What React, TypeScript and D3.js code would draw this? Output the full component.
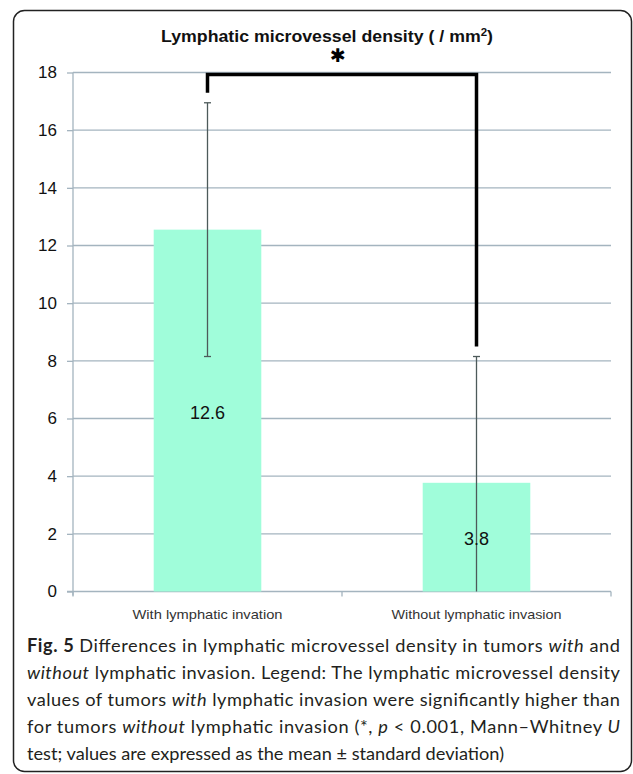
import { useEffect, useRef } from 'react';
import * as d3 from 'd3';

const categories = ['With lymphatic invation', 'Without lymphatic invasion'];
const means = [12.55, 3.77];
const meanLabels = ['12.6', '3.8'];
const sds = [4.4, 4.38];
const yTicks = [0, 2, 4, 6, 8, 10, 12, 14, 16, 18];
// significance bracket: top level, left leg end, right leg end
const bracketTop = 18;
const bracketEnds = [17.3, 8.5];

const captionLines: { t: string; b?: boolean; i?: boolean }[][] = [
  [{ t: 'Fig. 5 ', b: true }, { t: 'Differences in lymphatic microvessel density in tumors ' }, { t: 'with', i: true }, { t: ' and' }],
  [{ t: 'without', i: true }, { t: ' lymphatic invasion. Legend: The lymphatic microvessel density' }],
  [{ t: 'values of tumors ' }, { t: 'with', i: true }, { t: ' lymphatic invasion were significantly higher than' }],
  [{ t: 'for tumors ' }, { t: 'without', i: true }, { t: ' lymphatic invasion (*, ' }, { t: 'p', i: true }, { t: ' < 0.001, Mann\u2013Whitney ' }, { t: 'U', i: true }],
  [{ t: 'test; values are expressed as the mean \u00b1 standard deviation)' }],
];

export default function App() {
  const svgRef = useRef<SVGSVGElement>(null);
  const width = 633;
  const height = 774;

  useEffect(() => {
    if (!svgRef.current) return;
    const svg = d3.select(svgRef.current);
    svg.selectAll('*').remove();

    const left = 73;
    const right = 611;

    const x = d3.scaleBand()
      .domain(categories)
      .range([left, right])
      .paddingInner(0.6)
      .paddingOuter(0.3);

    const y = d3.scaleLinear()
      .domain([0, 18])
      .range([591.5, 72.5]);

    // frame
    svg.append('rect')
      .attr('x', 13.5)
      .attr('y', 10.5)
      .attr('width', 618)
      .attr('height', 761)
      .attr('rx', 11)
      .attr('fill', 'white')
      .attr('stroke', '#222')
      .attr('stroke-width', 1.5);

    // title
    const title = svg.append('text')
      .attr('x', 161)
      .attr('y', 42)
      .attr('textLength', 332)
      .attr('lengthAdjust', 'spacingAndGlyphs')
      .style('font-family', 'Liberation Sans, Arial, sans-serif')
      .style('font-size', '17px')
      .style('font-weight', 'bold')
      .style('fill', '#111');
    title.append('tspan').text('Lymphatic microvessel density ( / mm');
    title.append('tspan').attr('dy', -6).style('font-size', '11px').text('2');
    title.append('tspan').attr('dy', 6).text(')');

    // grid lines
    svg.append('g')
      .selectAll('line')
      .data(yTicks.filter(d => d > 0))
      .enter().append('line')
      .attr('x1', left)
      .attr('x2', right)
      .attr('y1', d => y(d))
      .attr('y2', d => y(d))
      .attr('stroke', '#a4b4bf')
      .attr('stroke-width', 1.3);

    // y axis
    const yAxis = svg.append('g')
      .attr('transform', `translate(${left},0)`)
      .call(d3.axisLeft(y).tickValues(yTicks).tickSize(6).tickPadding(10).tickFormat(d3.format('d')));
    yAxis.select('.domain').remove();
    yAxis.selectAll('.tick line').attr('stroke', '#a4b4bf').attr('stroke-width', 1.3);
    yAxis.selectAll('text')
      .style('font-family', 'Liberation Sans, Arial, sans-serif')
      .style('font-size', '17px')
      .style('fill', '#111');
    svg.append('line')
      .attr('x1', left).attr('x2', left)
      .attr('y1', y(18)).attr('y2', y(0) + 4)
      .attr('stroke', '#a4b4bf').attr('stroke-width', 1.3);

    // x axis
    svg.append('line')
      .attr('x1', left - 6).attr('x2', right)
      .attr('y1', y(0)).attr('y2', y(0))
      .attr('stroke', '#a4b4bf').attr('stroke-width', 1.3);
    const bounds = [0, 1, 2].map(i => left + i * x.step());
    svg.append('g').selectAll('line')
      .data(bounds)
      .enter().append('line')
      .attr('x1', d => d).attr('x2', d => d)
      .attr('y1', y(0)).attr('y2', y(0) + 5)
      .attr('stroke', '#a4b4bf').attr('stroke-width', 1.3);

    const labelWidths = [150, 170];
    svg.append('g').selectAll('text')
      .data(categories)
      .enter().append('text')
      .attr('x', (d, i) => (x(d) || 0) + x.bandwidth() / 2 - labelWidths[i] / 2)
      .attr('y', 619)
      .attr('textLength', (d, i) => labelWidths[i])
      .attr('lengthAdjust', 'spacingAndGlyphs')
      .style('font-family', 'Liberation Sans, Arial, sans-serif')
      .style('font-size', '13px')
      .style('fill', '#333')
      .text(d => d);

    // bars
    svg.append('g').selectAll('rect')
      .data(categories)
      .enter().append('rect')
      .attr('x', d => x(d) || 0)
      .attr('width', x.bandwidth())
      .attr('y', (d, i) => y(means[i]))
      .attr('height', (d, i) => y(0) - y(means[i]))
      .attr('fill', '#a0fdda');

    // error bars
    const eb = svg.append('g').selectAll('g')
      .data(categories)
      .enter().append('g');
    const cx = (d: string) => (x(d) || 0) + x.bandwidth() / 2;
    eb.append('line')
      .attr('x1', d => cx(d)).attr('x2', d => cx(d))
      .attr('y1', (d, i) => y(means[i] + sds[i]))
      .attr('y2', (d, i) => y(Math.max(0, means[i] - sds[i])))
      .attr('stroke', '#4d5a5a').attr('stroke-width', 1.3);
    eb.append('line')
      .attr('x1', d => cx(d) - 3.5).attr('x2', d => cx(d) + 3.5)
      .attr('y1', (d, i) => y(means[i] + sds[i]))
      .attr('y2', (d, i) => y(means[i] + sds[i]))
      .attr('stroke', '#4d5a5a').attr('stroke-width', 1.3);
    eb.filter((d, i) => means[i] - sds[i] > 0).append('line')
      .attr('x1', d => cx(d) - 3.5).attr('x2', d => cx(d) + 3.5)
      .attr('y1', (d, i) => y(means[i] - sds[i]))
      .attr('y2', (d, i) => y(means[i] - sds[i]))
      .attr('stroke', '#4d5a5a').attr('stroke-width', 1.3);

    // value labels
    svg.append('g').selectAll('text')
      .data(categories)
      .enter().append('text')
      .attr('x', d => cx(d))
      .attr('y', (d, i) => (i === 0 ? y(6) : y(2) + 11))
      .attr('text-anchor', 'middle')
      .style('font-family', 'Liberation Sans, Arial, sans-serif')
      .style('font-size', '18px')
      .style('fill', '#111')
      .text((d, i) => meanLabels[i]);

    // significance bracket
    const x0 = cx(categories[0]);
    const x1 = cx(categories[1]);
    const top = y(bracketTop) + 2;
    svg.append('path')
      .attr('d', `M${x0},${y(bracketEnds[0])}V${top}H${x1}V${y(bracketEnds[1])}`)
      .attr('fill', 'none')
      .attr('stroke', '#000')
      .attr('stroke-width', 3.5);
    svg.append('text')
      .attr('x', 338)
      .attr('y', 62)
      .attr('text-anchor', 'middle')
      .style('font-family', 'DejaVu Sans, sans-serif')
      .style('font-size', '19px')
      .style('fill', '#000')
      .text('\u2731');

    // caption
    const cap = svg.append('g')
      .style('font-family', 'Lato, sans-serif')
      .style('font-size', '18.2px')
      .style('fill', '#231f20');
    captionLines.forEach((line, i) => {
      const t = cap.append('text')
        .attr('x', 27)
        .attr('y', 652 + i * 27);
      if (i < captionLines.length - 1) {
        t.attr('textLength', 593).attr('lengthAdjust', 'spacing');
      }
      line.forEach(s => {
        t.append('tspan')
          .style('font-weight', s.b ? 'bold' : 'normal')
          .style('font-style', s.i ? 'italic' : 'normal')
          .text(s.t);
      });
    });
  }, []);

  return (
    <svg
      ref={svgRef}
      width={width}
      height={height}
      style={{ position: 'absolute', left: 0, top: 0, background: 'white' }}
    />
  );
}
